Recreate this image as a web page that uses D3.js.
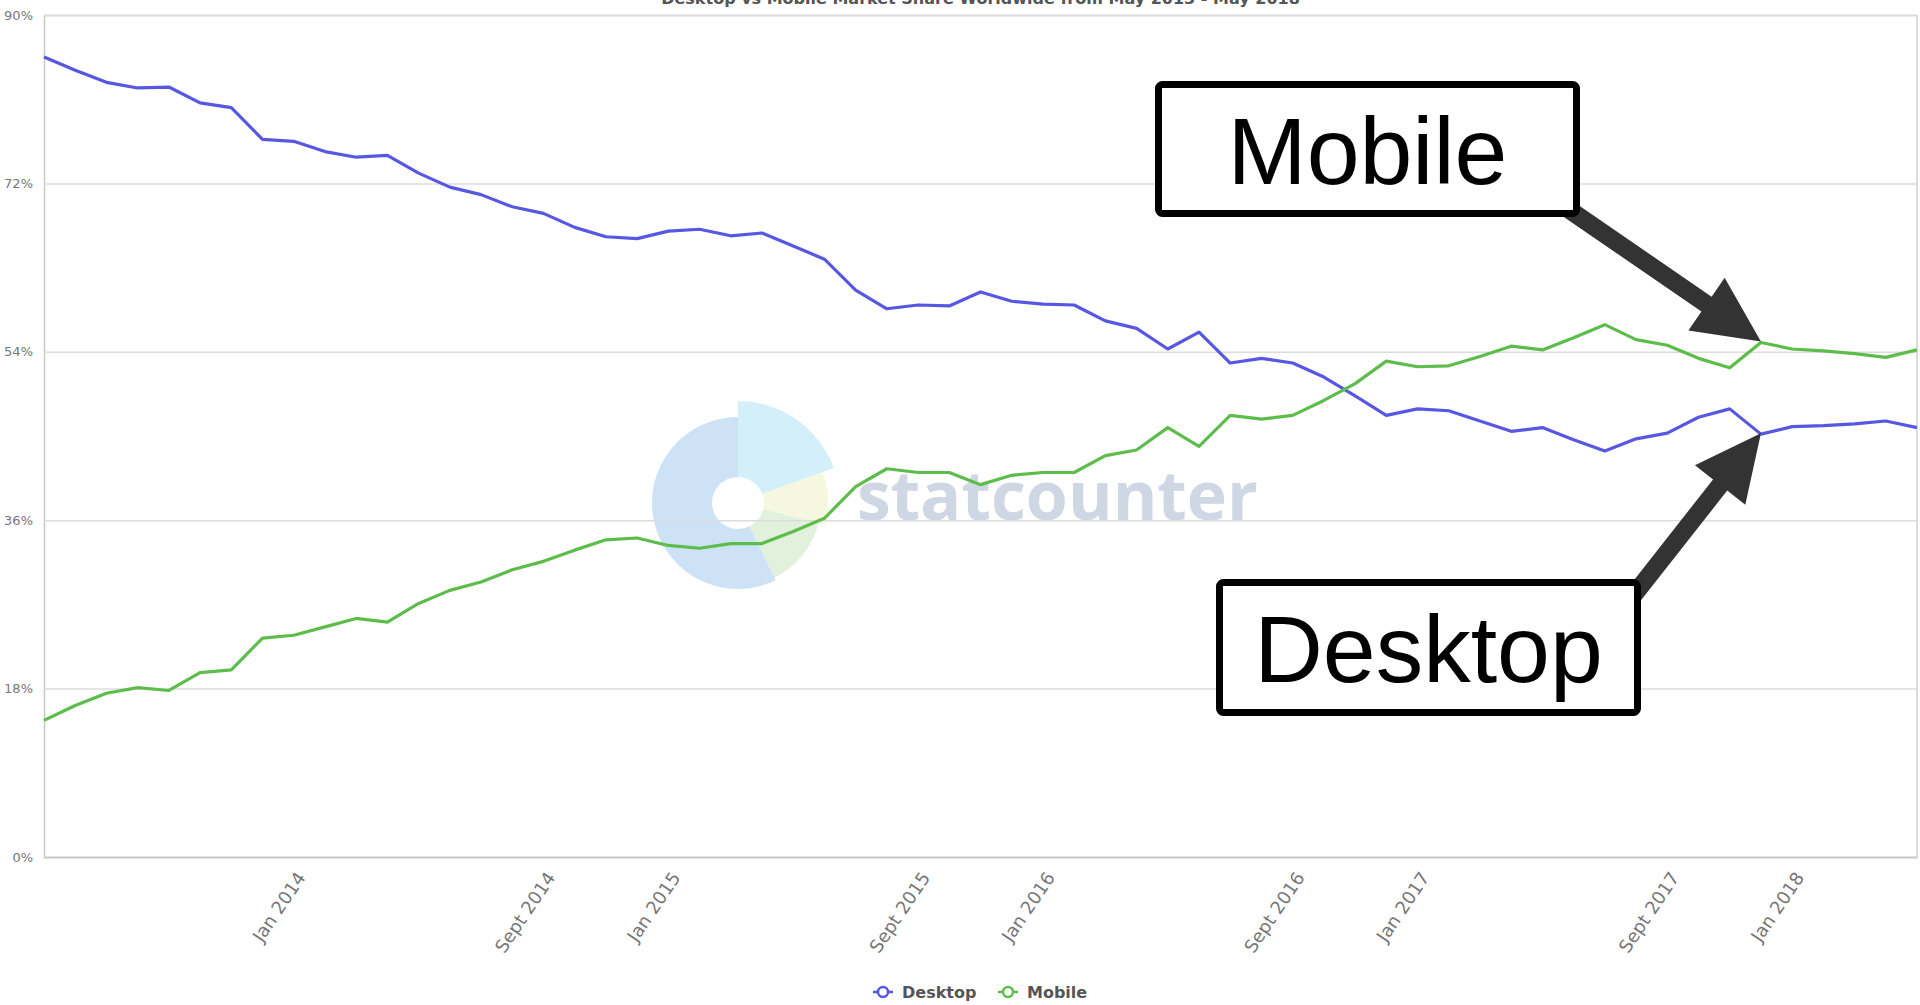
<!DOCTYPE html>
<html>
<head>
<meta charset="utf-8">
<script src="https://cdn.jsdelivr.net/npm/d3@7"></script>
<style>
  html, body { margin: 0; padding: 0; background: #fff; overflow: hidden; }
  svg { display: block; }
</style>
</head>
<body>
<div id="chart"></div>
<script>
// months shown on the x axis (May 2013 - May 2018)
var months = [
  "May 2013", "June 2013", "July 2013", "Aug 2013", "Sept 2013", "Oct 2013", "Nov 2013", "Dec 2013",
  "Jan 2014", "Feb 2014", "Mar 2014", "Apr 2014", "May 2014", "June 2014", "July 2014", "Aug 2014",
  "Sept 2014", "Oct 2014", "Nov 2014", "Dec 2014",
  "Jan 2015", "Feb 2015", "Mar 2015", "Apr 2015", "May 2015", "June 2015", "July 2015", "Aug 2015",
  "Sept 2015", "Oct 2015", "Nov 2015", "Dec 2015",
  "Jan 2016", "Feb 2016", "Mar 2016", "Apr 2016", "May 2016", "June 2016", "July 2016", "Aug 2016",
  "Sept 2016", "Oct 2016", "Nov 2016", "Dec 2016",
  "Jan 2017", "Feb 2017", "Mar 2017", "Apr 2017", "May 2017", "June 2017", "July 2017", "Aug 2017",
  "Sept 2017", "Oct 2017", "Nov 2017", "Dec 2017",
  "Jan 2018", "Feb 2018", "Mar 2018", "Apr 2018", "May 2018"
];

// market share in %
var desktop = [
  85.5, 84.1, 82.8, 82.2, 82.3, 80.6, 80.1, 76.7, 76.5, 75.4, 74.8, 75.0, 73.1, 71.6, 70.8, 69.5,
  68.8, 67.3, 66.3, 66.1, 66.9, 67.1, 66.4, 66.7, 65.3, 63.9, 60.6, 58.6, 59.0, 58.9,
  60.4, 59.4, 59.1, 59.0, 57.3, 56.5, 54.3, 56.1, 52.8, 53.3, 52.8, 51.3, 49.3, 47.2, 47.9,
  47.7, 46.6, 45.5, 45.9, 44.6, 43.4, 44.7, 45.3, 47.0, 47.9, 45.2, 46.0, 46.1, 46.3, 46.6, 45.9
];
var mobile = [
  14.6, 16.2, 17.5, 18.1, 17.8, 19.7, 20.0, 23.4, 23.7, 24.6, 25.5, 25.1, 27.1, 28.5, 29.4, 30.7,
  31.6, 32.8, 33.9, 34.1, 33.3, 33.0, 33.5, 33.5, 34.8, 36.2, 39.6, 41.5, 41.1, 41.1,
  39.8, 40.8, 41.1, 41.1, 42.9, 43.5, 45.9, 43.9, 47.2, 46.8, 47.2, 48.8, 50.6, 53.0, 52.4,
  52.5, 53.5, 54.6, 54.2, 55.5, 56.9, 55.3, 54.7, 53.3, 52.3, 55.0, 54.3, 54.1, 53.8, 53.4, 54.2
];

var xTickLabels = ["Jan 2014", "Sept 2014", "Jan 2015", "Sept 2015", "Jan 2016", "Sept 2016", "Jan 2017", "Sept 2017", "Jan 2018"];
var yTicks = [0, 18, 36, 54, 72, 90];

var seriesNames = ["Desktop", "Mobile"];
var seriesColors = ["#5757e2", "#5dbd4b"];

// callouts point at this month
var calloutMonth = "Dec 2017";

var width = 1920, height = 1005;
var plot = {left: 44, right: 1917, top: 15, bottom: 857};

var svg = d3.select("#chart")
  .append("svg")
    .attr("width", width)
    .attr("height", height);

var x = d3.scalePoint()
  .domain(months)
  .range([plot.left, plot.right]);

var y = d3.scaleLinear()
  .domain([0, 90])
  .range([plot.bottom, plot.top]);

// title (cut off at the top edge, as in the source image)
svg.append("text")
  .attr("x", (plot.left + plot.right) / 2)
  .attr("y", 4)
  .attr("text-anchor", "middle")
  .attr("font-family", "DejaVu Sans, sans-serif")
  .attr("font-weight", "bold")
  .attr("font-size", 16)
  .attr("fill", "#555")
  .text("Desktop vs Mobile Market Share Worldwide from May 2013 - May 2018");

// statcounter watermark
var logo = svg.append("g")
  .attr("transform", "translate(738,503)");
var logoParts = [
  {a0: 0, a1: 70, r: 102, c: "#d3f0fa"},
  {a0: 70, a1: 104, r: 90, c: "#f6f7df"},
  {a0: 104, a1: 154, r: 83, c: "#e2f1dc"},
  {a0: 154, a1: 360, r: 86, c: "#cde2f4"}
];
var arc = d3.arc();
logo.selectAll("path")
  .data(logoParts)
  .enter()
  .append("path")
    .attr("d", d => arc({innerRadius: 26, outerRadius: d.r, startAngle: d.a0 * Math.PI / 180, endAngle: d.a1 * Math.PI / 180}))
    .attr("fill", d => d.c);
svg.append("text")
  .attr("x", 857)
  .attr("y", 520)
  .attr("font-family", "Open Sans, sans-serif")
  .attr("font-weight", "bold")
  .attr("font-size", 68)
  .attr("fill", "#cfd7e4")
  .text("statcounter");

// y axis with grid lines
var yAxis = svg.append("g")
  .attr("transform", "translate(" + plot.left + ",0)")
  .call(d3.axisLeft(y)
    .tickValues(yTicks)
    .tickFormat(d => d + "%")
    .tickSize(-(plot.right - plot.left))
    .tickPadding(11));
yAxis.select(".domain").attr("stroke", "#c8c8c8").attr("stroke-width", 1.5);
yAxis.selectAll(".tick line").attr("stroke", "#dcdcdc").attr("stroke-width", 1.5);
yAxis.selectAll(".tick text")
  .attr("font-family", "DejaVu Sans, sans-serif")
  .attr("font-size", 13)
  .attr("fill", "#777");

// right border
svg.append("line")
  .attr("x1", plot.right).attr("x2", plot.right)
  .attr("y1", plot.top).attr("y2", plot.bottom)
  .attr("stroke", "#d0d0d0")
  .attr("stroke-width", 1.5);

// x axis
var xAxis = svg.append("g")
  .attr("transform", "translate(0," + plot.bottom + ")")
  .call(d3.axisBottom(x)
    .tickValues(xTickLabels)
    .tickSize(0));
xAxis.select(".domain").attr("stroke", "#c8c8c8").attr("stroke-width", 1.5);
xAxis.selectAll(".tick text")
  .attr("x", 0)
  .attr("y", 0)
  .attr("dy", "0.35em")
  .attr("text-anchor", "end")
  .attr("transform", "translate(7,17) rotate(-56)")
  .attr("font-family", "DejaVu Sans, sans-serif")
  .attr("font-size", 18)
  .attr("fill", "#777");

// lines
var line = d3.line()
  .x((d, i) => x(months[i]))
  .y(d => y(d));

[desktop, mobile].forEach(function(values, k) {
  svg.append("path")
    .datum(values)
    .attr("fill", "none")
    .attr("stroke", seriesColors[k])
    .attr("stroke-width", 3.2)
    .attr("stroke-linejoin", "round")
    .attr("d", line);
});

// legend
var legend = svg.append("g")
  .attr("font-family", "DejaVu Sans, sans-serif")
  .attr("font-weight", "bold")
  .attr("font-size", 16)
  .attr("fill", "#555");
var legendX = [873, 998];
seriesNames.forEach(function(name, k) {
  var g = legend.append("g").attr("transform", "translate(" + legendX[k] + ",992)");
  g.append("line")
    .attr("x1", 0).attr("x2", 20)
    .attr("stroke", seriesColors[k])
    .attr("stroke-width", 2.5);
  g.append("circle")
    .attr("cx", 10)
    .attr("r", 5)
    .attr("fill", "#fff")
    .attr("stroke", seriesColors[k])
    .attr("stroke-width", 2.5);
  g.append("text")
    .attr("x", 29)
    .attr("dy", "0.36em")
    .text(name);
});

// callouts: block arrow from a box to the data point
function arrowPath(s, t, shaft, headLen, headHalf) {
  var dx = t[0] - s[0], dy = t[1] - s[1];
  var len = Math.sqrt(dx * dx + dy * dy);
  var ux = dx / len, uy = dy / len;
  var nx = -uy, ny = ux;
  var bx = t[0] - ux * headLen, by = t[1] - uy * headLen;
  var w = shaft / 2;
  var pts = [
    [s[0] + nx * w, s[1] + ny * w],
    [bx + nx * w, by + ny * w],
    [bx + nx * headHalf, by + ny * headHalf],
    t,
    [bx - nx * headHalf, by - ny * headHalf],
    [bx - nx * w, by - ny * w],
    [s[0] - nx * w, s[1] - ny * w]
  ];
  return "M" + pts.map(p => p[0] + "," + p[1]).join("L") + "Z";
}

var idx = months.indexOf(calloutMonth);
var callouts = [
  {label: "Mobile", box: [1155, 81, 425, 136], from: [1555, 200], value: mobile[idx], baseline: 184},
  {label: "Desktop", box: [1216, 579, 425, 137], from: [1618, 615], value: desktop[idx], baseline: 682}
];

callouts.forEach(function(c) {
  var tip = [x(calloutMonth), y(c.value) - 1];
  svg.append("path")
    .attr("d", arrowPath(c.from, tip, 18, 66, 32))
    .attr("fill", "#333");
  svg.append("rect")
    .attr("x", c.box[0] + 3.5)
    .attr("y", c.box[1] + 3.5)
    .attr("width", c.box[2] - 7)
    .attr("height", c.box[3] - 7)
    .attr("rx", 4)
    .attr("fill", "#fff")
    .attr("stroke", "#000")
    .attr("stroke-width", 7);
  svg.append("text")
    .attr("x", c.box[0] + c.box[2] / 2)
    .attr("y", c.baseline)
    .attr("text-anchor", "middle")
    .attr("font-family", "Liberation Sans, Arial, sans-serif")
    .attr("font-size", 95)
    .attr("fill", "#000")
    .text(c.label);
});
</script>
</body>
</html>
